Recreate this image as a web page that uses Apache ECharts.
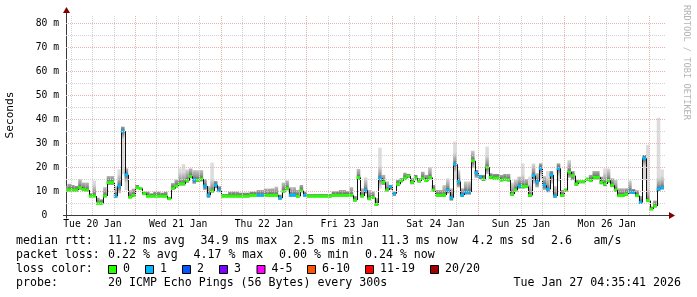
<!DOCTYPE html>
<html>
<head>
<meta charset="utf-8">
<script src="https://cdn.jsdelivr.net/npm/echarts@6.0.0/dist/echarts.min.js"></script>
<style>
html,body{margin:0;padding:0;background:#fff;}
#chart{width:697px;height:297px;}
</style>
</head>
<body>
<div id="chart"></div>
<script>
// hours since Tue 20 Jan 00:00; each value covers one clock hour starting at firstHour + index
const firstHour = 4;
const viewStartHour = 4.5947;   // Tue Jan 20 04:35:41
const viewEndHour = 172.5947;   // Tue Jan 27 04:35:41
const dayLabels = ['Tue 20 Jan','Wed 21 Jan','Thu 22 Jan','Fri 23 Jan','Sat 24 Jan','Sun 25 Jan','Mon 26 Jan'];
const dayLabelHours = [12, 36, 60, 84, 108, 132, 156];
const yTickValues = [0, 10, 20, 30, 40, 50, 60, 70, 80];

// median rtt (ms)
const medianMs = [
  10.4,10.4,10.4,10.4,11.4,10.6,10.4,7.9,7.9,4.9,4.9,7.9,
  13.5,13.5,7.9,12.1,34.9,16.7,7.4,8.2,11.4,11.0,8.9,7.8,
  7.8,7.8,7.8,7.8,7.8,6.8,11.0,12.1,13.0,13.0,14.3,16.1,
  14.7,14.5,15.0,12.1,8.3,10.0,12.4,10.3,7.8,7.8,7.8,7.8,
  7.8,7.8,7.8,7.8,8.2,8.2,8.2,8.2,8.2,8.2,8.2,8.2,
  7.0,9.9,11.0,8.3,8.3,7.8,10.1,8.2,7.8,7.8,7.8,7.8,
  7.8,7.8,7.8,8.2,8.2,8.2,8.2,8.2,8.2,6.2,15.6,7.9,
  10.3,6.8,7.3,4.4,15.3,13.6,10.4,11.8,8.9,12.8,14.3,15.3,
  16.2,13.6,15.3,14.2,15.3,14.4,15.6,10.4,8.2,8.2,8.3,10.3,
  7.2,21.1,13.9,8.3,9.6,9.6,22.6,17.6,16.0,15.0,19.9,15.7,
  15.4,15.4,14.6,15.0,14.6,8.7,10.4,12.1,11.9,11.9,8.2,16.4,
  13.9,19.4,12.4,10.7,16.7,7.9,19.4,8.2,10.3,17.9,16.4,12.9,
  13.9,13.9,15.0,14.4,15.7,15.7,13.6,12.9,14.4,12.4,10.4,8.1,
  8.1,8.7,9.7,9.4,8.1,5.3,23.6,6.0,2.5,3.7,10.8,11.3
];
// lost packets per 20 (loss colour class)
const lossCount = [
  0,0,0,0,0,0,0,0,0,0,0,0,
  0,0,1,1,1,1,0,0,0,0,0,0,
  0,0,0,0,0,0,0,0,0,0,0,0,
  1,0,0,1,1,0,1,1,0,0,0,0,
  0,0,0,0,0,0,1,1,0,0,0,0,
  1,0,0,1,1,0,0,1,0,0,0,0,
  0,0,0,0,0,0,0,0,0,0,0,0,
  1,0,0,0,1,0,0,1,1,0,0,0,
  0,0,0,0,0,0,0,0,0,0,0,1,
  1,1,1,1,1,1,0,1,1,0,0,0,
  0,0,0,0,0,0,0,1,0,0,0,1,
  1,1,1,1,1,1,1,0,0,0,0,0,
  0,0,0,0,0,0,0,0,0,0,0,0,
  0,0,1,1,0,1,1,0,0,0,1,1
];
// smoke: highest ping (ms)
const smokeTopMs = [
  12.1,13.0,12.5,12.1,15.0,13.5,13.5,9.0,14.4,7.2,6.5,11.6,
  16.2,16.2,12.0,19.0,36.8,19.4,10.3,11.0,12.5,11.3,9.7,9.7,
  9.0,9.7,9.7,9.3,9.7,7.5,13.3,14.7,19.4,21.2,19.0,19.4,
  18.7,18.7,18.7,15.0,12.0,21.8,14.2,12.0,8.7,8.7,9.7,9.7,
  9.7,9.3,9.3,9.3,9.7,9.7,10.4,10.4,11.0,11.0,11.1,11.8,
  8.5,13.5,14.4,11.6,11.6,10.4,12.5,9.7,8.7,8.7,8.7,8.7,
  8.7,8.7,8.7,9.9,9.9,10.4,10.4,9.9,11.6,7.9,19.2,11.1,
  15.7,10.4,9.7,7.0,28.0,16.7,14.0,12.5,9.7,14.6,15.3,17.6,
  17.1,15.3,16.7,15.3,18.0,16.7,19.9,12.5,10.4,10.4,12.5,15.3,
  11.1,30.6,18.7,11.1,14.0,14.0,26.8,18.7,16.7,16.7,28.5,17.4,
  17.1,17.1,16.7,17.1,17.1,13.5,14.6,16.0,21.5,15.0,16.0,21.5,
  17.4,21.5,16.2,18.3,18.3,12.0,21.5,10.4,11.0,22.9,18.3,14.6,
  14.0,14.4,15.3,16.7,18.3,18.3,16.0,19.4,19.4,15.3,14.6,11.1,
  11.1,11.1,14.4,10.8,10.3,7.9,25.0,29.2,3.5,6.0,40.5,19.0
];
// smoke: lowest ping (ms)
const smokeLowMs = [
  9.8,9.8,9.8,9.8,10.6,10.0,9.8,7.4,7.4,4.4,4.4,7.4,
  12.6,12.6,7.2,9.0,17.0,10.4,7.0,7.7,10.8,10.5,8.4,7.4,
  7.4,7.4,7.4,7.4,7.4,6.3,10.4,11.5,12.3,12.3,13.5,15.3,
  13.0,13.8,14.0,10.5,7.2,9.4,11.2,9.5,7.4,7.4,7.4,7.4,
  7.4,7.4,7.4,7.4,7.7,7.7,7.7,7.7,7.7,7.7,7.7,7.7,
  6.4,9.3,10.3,7.6,7.6,7.3,9.5,7.6,7.4,7.4,7.4,7.4,
  7.4,7.4,7.4,7.7,7.7,7.7,7.7,7.7,7.7,5.6,14.6,7.3,
  9.0,6.2,6.8,3.8,11.0,12.6,9.8,10.5,8.0,12.0,13.6,14.5,
  15.5,12.8,14.5,13.5,14.6,13.7,14.8,9.6,7.6,7.6,7.6,9.0,
  6.0,15.0,11.5,7.5,8.5,8.5,19.5,15.5,15.0,14.2,17.0,15.0,
  14.8,14.8,14.0,14.3,14.0,8.0,9.8,11.0,11.0,11.2,7.5,13.0,
  11.5,15.0,10.5,9.5,13.0,7.2,14.0,7.6,9.6,15.5,14.5,12.2,
  13.2,13.2,14.3,13.7,14.8,14.8,12.8,12.0,13.5,11.6,9.7,7.5,
  7.5,8.1,8.8,8.8,7.5,4.6,14.5,5.4,2.0,3.2,10.0,10.7
];
const lossColors = ['#26ff00','#00b8ff','#0059ff','#7e00ff','#ff00ff','#ff5500','#ff0000','#a10000'];
const lossLabels = ['0','1','2','3','4-5','6-10','11-19','20/20'];

const MONO = '"DejaVu Sans Mono", "Liberation Mono", monospace';
const G = {left: 66, top: 15, width: 600, height: 200};

const smokeData = medianMs.map((m, j) => [firstHour + j, smokeLowMs[j], smokeTopMs[j], m]);
const medianData = medianMs.map((m, j) => [firstHour + j, m, j > 0 ? medianMs[j - 1] : m, lossCount[j]]);

// grid lines (major red every 10 ms / midnight; minor grey every 5 ms / 6 h)
const MAJOR = '#eab0b0', MINOR = '#d2d2d2';
const gridMarks = [];
for (let v = 5; v <= 80; v += 5) {
  gridMarks.push({yAxis: v, lineStyle: {color: v % 10 === 0 ? MAJOR : MINOR, type: [1, 1], width: 1}});
}
for (let h = 6; h <= 168; h += 6) {
  gridMarks.push({xAxis: h, lineStyle: {color: h % 24 === 0 ? MAJOR : MINOR, type: [1, 1], width: 1}});
}

const chart = echarts.init(document.getElementById('chart'), null, {renderer: 'canvas'});

function renderSmoke(params, api) {
  const h = api.value(0), low = api.value(1), top = api.value(2), med = api.value(3);
  const pTop = api.coord([h, top]);
  const pMed = api.coord([h, med]);
  const pLow = api.coord([h, low]);
  const w = api.size([1, 0])[0];
  const x0 = pTop[0];
  const up = new echarts.graphic.LinearGradient(0, pMed[1], 0, pMed[1] - 12, [
    {offset: 0, color: '#5e5e5e'}, {offset: 0.35, color: '#9a9a9a'}, {offset: 1, color: '#dcdcdc'}
  ], true);
  const down = new echarts.graphic.LinearGradient(0, pMed[1], 0, pMed[1] + 8, [
    {offset: 0, color: '#5e5e5e'}, {offset: 0.5, color: '#a0a0a0'}, {offset: 1, color: '#d8d8d8'}
  ], true);
  return {
    type: 'group',
    children: [
      {type: 'rect', shape: {x: x0, y: pTop[1], width: w, height: Math.max(0, pMed[1] - pTop[1])}, style: {fill: up}},
      {type: 'rect', shape: {x: x0, y: pMed[1], width: w, height: Math.max(0, pLow[1] - pMed[1])}, style: {fill: down}}
    ]
  };
}

function renderMedian(params, api) {
  const h = api.value(0), med = api.value(1), prev = api.value(2), loss = api.value(3);
  const p = api.coord([h, med]);
  const pp = api.coord([h, prev]);
  const w = api.size([1, 0])[0];
  const xl = Math.round(p[0]) + 0.5;
  return {
    type: 'group',
    children: [
      {type: 'line', shape: {x1: xl, y1: pp[1], x2: xl, y2: p[1]}, style: {stroke: '#111', lineWidth: 1}},
      {type: 'rect', shape: {x: p[0], y: p[1] - 1.5, width: w, height: 3}, style: {fill: lossColors[loss]}}
    ]
  };
}

// legend / footer texts
const footer = [];
function txt(x, y, s, align) {
  footer.push({type: 'text', x: x, y: y, silent: true,
    style: {text: s, fill: '#000', font: '11.6px ' + MONO, textAlign: align || 'left', textVerticalAlign: 'middle'}});
}
const r1 = 240.5, r2 = 254.8, r3 = 269, r4 = 283.3;
txt(16, r1, 'median rtt:'); txt(108, r1, '11.2 ms avg'); txt(200.5, r1, '34.9 ms max'); txt(293.5, r1, '2.5 ms min');
txt(381, r1, '11.3 ms now'); txt(472, r1, '4.2 ms sd'); txt(551, r1, '2.6'); txt(593.5, r1, 'am/s');
txt(16, r2, 'packet loss:'); txt(108, r2, '0.22 % avg'); txt(193.5, r2, '4.17 % max'); txt(279, r2, '0.00 % min'); txt(365, r2, '0.24 % now');
txt(16, r3, 'loss color:');
const boxX = [108, 145, 182, 219, 256.5, 307, 365, 430];
lossLabels.forEach((lab, i) => {
  footer.push({type: 'rect', silent: true, shape: {x: boxX[i] + 0.5, y: 265.5, width: 8, height: 8},
    style: {fill: lossColors[i], stroke: '#000', lineWidth: 1}});
  txt(boxX[i] + 15, r3, lab);
});
txt(16, r4, 'probe:'); txt(108, r4, '20 ICMP Echo Pings (56 Bytes) every 300s'); txt(681, r4, 'Tue Jan 27 04:35:41 2026', 'right');

// axes lines + arrows, watermark
const axisX = G.left + 0.5, axisY = G.top + G.height + 0.5;
footer.push({type: 'line', silent: true, shape: {x1: axisX, y1: axisY + 3, x2: axisX, y2: G.top - 3}, style: {stroke: '#3a3a3a', lineWidth: 1}});
footer.push({type: 'line', silent: true, shape: {x1: G.left - 3, y1: axisY, x2: G.left + G.width + 4, y2: axisY}, style: {stroke: '#3a3a3a', lineWidth: 1}});
footer.push({type: 'polygon', silent: true, shape: {points: [[axisX - 3.5, G.top - 2], [axisX + 3.5, G.top - 2], [axisX, G.top - 8]]}, style: {fill: '#7f0000'}});
footer.push({type: 'polygon', silent: true, shape: {points: [[G.left + G.width + 3, axisY - 3.5], [G.left + G.width + 3, axisY + 3.5], [G.left + G.width + 9, axisY]]}, style: {fill: '#7f0000'}});
footer.push({type: 'text', silent: true, x: 686, y: 5, rotation: -Math.PI / 2,
  style: {text: 'RRDTOOL / TOBI OETIKER', fill: '#b4b4b4', font: '8.7px ' + MONO, textAlign: 'left', textVerticalAlign: 'middle'}});

chart.setOption({
  animation: false,
  backgroundColor: '#ffffff',
  grid: {left: G.left, top: G.top, width: G.width, height: G.height, containLabel: false, outerBoundsMode: 'none'},
  xAxis: {
    type: 'value', min: viewStartHour, max: viewEndHour,
    axisLine: {show: false}, axisTick: {show: false}, splitLine: {show: false},
    axisLabel: {
      customValues: dayLabelHours,
      formatter: (v) => dayLabels[dayLabelHours.indexOf(Math.round(v))] || '',
      fontFamily: MONO, fontSize: 9.7, color: '#000', margin: 4
    }
  },
  yAxis: {
    type: 'value', min: 0, max: 83.3333,
    name: 'Seconds', nameLocation: 'middle', nameGap: 50, nameRotate: 90,
    nameTextStyle: {fontFamily: MONO, fontSize: 11.2, color: '#000'},
    axisLine: {show: false}, axisTick: {show: false}, splitLine: {show: false},
    axisLabel: {
      customValues: yTickValues,
      formatter: (v) => v === 0 ? '{z|0}' : Math.round(v) + ' m',
      fontFamily: MONO, fontSize: 9.7, color: '#000', margin: 7,
      rich: {z: {fontFamily: MONO, fontSize: 9.7, color: '#000', padding: [0, 11.7, 0, 0]}}
    }
  },
  series: [
    {type: 'line', data: [], z: 1, silent: true,
      markLine: {silent: true, symbol: ['none', 'none'], label: {show: false}, animation: false, data: gridMarks}},
    {type: 'custom', z: 2, clip: true, silent: true, renderItem: renderSmoke, data: smokeData},
    {type: 'custom', z: 3, clip: true, silent: true, renderItem: renderMedian, data: medianData}
  ],
  graphic: footer
});
</script>
</body>
</html>
